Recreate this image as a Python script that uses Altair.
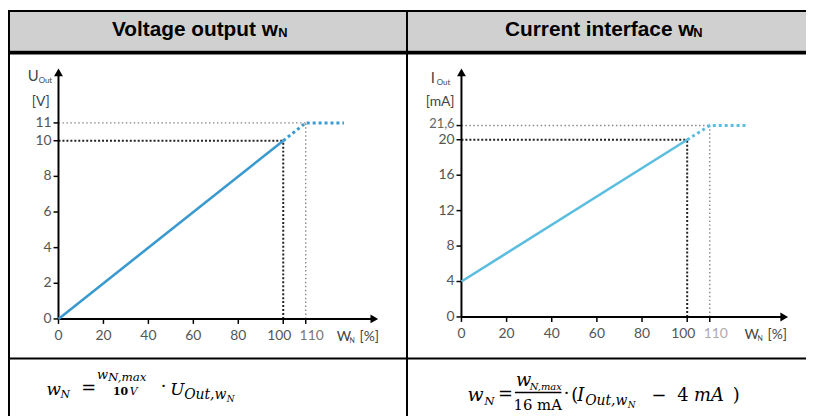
import altair as alt
import pandas as pd

# ---------------- data ----------------
pct_ticks = [0, 20, 40, 60, 80, 100, 110]
pct_tick_labels = ["0", "20", "40", "60", "80", "100", "110"]
voltage_ticks = [0, 2, 4, 6, 8, 10, 11]
voltage_tick_labels = ["0", "2", "4", "6", "8", "10", "11"]
current_ticks = [0, 4, 8, 12, 16, 20, 21.6]
current_tick_labels = ["0", "4", "8", "12", "16", "20", "21,6"]

voltage_pct = [0, 100, 110, 127]
voltage_out = [0, 10, 11, 11]
current_pct = [0, 100, 110, 126]
current_out = [4, 20, 21.6, 21.6]

ref_pct = [100, 110]
ref_voltage = [10, 11]
ref_current = [20, 21.6]

headers = ["Voltage output w", "Current interface w"]

W, H = 806, 410
OX, OY = 8, 8  # page offset


def px(x):
    return x - OX


def py(y):
    return y - OY


one = pd.DataFrame({"k": [0]})

# scales (pixel ranges inside the canvas)
VX = alt.Scale(domain=[0, 100], range=[px(59), px(286)], zero=False, nice=False)
VY = alt.Scale(domain=[0, 10], range=[py(320), py(140)], zero=False, nice=False)
CX = alt.Scale(domain=[0, 100], range=[px(466), px(694)], zero=False, nice=False)
CY = alt.Scale(domain=[0, 20], range=[py(318), py(139)], zero=False, nice=False)

layers = []


def box(x1, x2, y1, y2, color):
    return alt.Chart(one).mark_rect(color=color, opacity=1).encode(
        x=alt.value(x1), x2=alt.value(x2), y=alt.value(y1), y2=alt.value(y2))


def txt(s, x, y, size, font="Lato", color="#444", align="left", baseline="alphabetic",
        weight="normal", style="normal"):
    return alt.Chart(one).mark_text(
        text=s, align=align, baseline=baseline, font=font, fontSize=size, color=color,
        fontWeight=weight, fontStyle=style).encode(x=alt.value(x), y=alt.value(y))


# ---------------- table ----------------
layers.append(box(0, W, 2, 41, "#d0d0d0"))
layers.append(box(0, W, 0, 2, "#000000"))
layers.append(box(0, W, 41, 45, "#000000"))
layers.append(box(0, W, py(359), py(361), "#000000"))
layers.append(box(0, 2, 0, H, "#000000"))
layers.append(box(px(410), px(412), 0, H, "#000000"))

# headers
layers.append(txt(headers[0], px(113), py(34), 21, font="Liberation Sans", color="#000", weight="bold"))
layers.append(txt("N", px(281), py(35), 13, font="Liberation Sans", color="#000", weight="bold"))
layers.append(txt(headers[1], px(510), py(34), 21, font="Liberation Sans", color="#000", weight="bold"))
layers.append(txt("N", px(700), py(35), 13, font="Liberation Sans", color="#000", weight="bold"))


# ---------------- charts ----------------
def panel(SX, SY, pcts, outs, refy, yticks, ylabels, color, geo, c110):
    out = []
    line_df = pd.DataFrame({"pct": pcts, "val": outs})
    ref_df = pd.DataFrame({"pct": ref_pct, "val": refy, "x0": [0, 0], "y0": [0, 0]})
    origin = pd.DataFrame({"pct": [0], "val": [0]})
    xt = pd.DataFrame({"t": pct_ticks, "lab": pct_tick_labels})
    yt = pd.DataFrame({"t": yticks, "lab": ylabels})
    X = lambda f: alt.X(f, scale=SX, axis=None)
    Y = lambda f: alt.Y(f, scale=SY, axis=None)

    # reference lines
    styles = {100: dict(color="#222222", strokeWidth=2, strokeDash=[2, 2]),
              110: dict(color="#888888", strokeWidth=1.4, strokeDash=[1.5, 2.5])}
    for p, st in styles.items():
        out.append(alt.Chart(ref_df).transform_filter(alt.datum.pct == p).mark_rule(**st).encode(
            x=X("x0:Q"), x2="pct:Q", y=Y("val:Q")))
        out.append(alt.Chart(ref_df).transform_filter(alt.datum.pct == p).mark_rule(**st).encode(
            x=X("pct:Q"), y=Y("y0:Q"), y2="val:Q"))

    # axes
    axx, axy, xtip, ytip = geo
    out.append(alt.Chart(origin).mark_rule(color="#000", strokeWidth=2).encode(
        x=X("pct:Q"), x2=alt.value(xtip - 6), y=Y("val:Q")))
    out.append(alt.Chart(origin).mark_rule(color="#000", strokeWidth=2).encode(
        x=X("pct:Q"), y=Y("val:Q"), y2=alt.value(ytip + 6)))
    out.append(alt.Chart(origin).mark_point(shape="triangle-right", filled=True, size=80,
                                            color="#000", opacity=1).encode(
        x=alt.value(xtip - 5), y=Y("val:Q")))
    out.append(alt.Chart(origin).mark_point(shape="triangle-up", filled=True, size=80,
                                            color="#000", opacity=1).encode(
        x=X("pct:Q"), y=alt.value(ytip + 5)))
    # ticks
    out.append(alt.Chart(xt).mark_rule(color="#000", strokeWidth=1.5).encode(
        x=X("t:Q"), y=alt.value(axx), y2=alt.value(axx + 5)))
    out.append(alt.Chart(yt).mark_rule(color="#000", strokeWidth=1.5).encode(
        y=Y("t:Q"), x=alt.value(axy - 5), x2=alt.value(axy)))
    # tick labels
    for cond, dx, col in [(alt.datum.t < 100, 0, "#555"), (alt.datum.t == 100, -4, "#555"),
                          (alt.datum.t > 100, 6, c110)]:
        out.append(alt.Chart(xt).transform_filter(cond).mark_text(
            font="Lato", fontSize=14, color=col, baseline="middle", dx=dx).encode(
            x=X("t:Q"), y=alt.value(axx + 17), text="lab:N"))
    out.append(alt.Chart(yt).transform_filter(alt.datum.t < 21).mark_text(
        font="Lato", fontSize=14, color="#555", baseline="middle", align="right").encode(
        y=Y("t:Q"), x=alt.value(axy - 7), text="lab:N"))
    out.append(alt.Chart(yt).transform_filter(alt.datum.t > 21).mark_text(
        font="Lato", fontSize=13, color="#666", baseline="middle", align="right", dy=-2).encode(
        y=Y("t:Q"), x=alt.value(axy - 7), text="lab:N"))

    # data line
    out.append(alt.Chart(line_df).transform_filter(alt.datum.pct <= 100).mark_line(
        color=color, strokeWidth=2.6).encode(x=X("pct:Q"), y=Y("val:Q")))
    out.append(alt.Chart(line_df).transform_filter(alt.datum.pct >= 100).mark_line(
        color=color, strokeWidth=3, strokeDash=[3, 3]).encode(x=X("pct:Q"), y=Y("val:Q")))
    return out


layers += panel(VX, VY, voltage_pct, voltage_out, ref_voltage, voltage_ticks, voltage_tick_labels,
                "#3a9ad0", (py(320), px(59), px(383), py(66)), "#777")
layers += panel(CX, CY, current_pct, current_out, ref_current, current_ticks, current_tick_labels,
                "#5bbddf", (py(318), px(466), px(797), py(66)), "#aaa")

# axis titles
layers.append(txt("U", px(28), py(80), 15))
layers.append(txt("Out", px(39), py(82), 8))
layers.append(txt("[V]", px(32), py(105), 14))
layers.append(txt("W", px(340), py(342), 14))
layers.append(txt("N", px(353), py(344), 7))
layers.append(txt("[%]", px(363), py(342), 14))

layers.append(txt("I", px(435), py(82), 15))
layers.append(txt("Out", px(441), py(84), 8))
layers.append(txt("[mA]", px(430), py(105), 14))
layers.append(txt("W", px(752), py(340), 14))
layers.append(txt("N", px(765), py(342), 7))
layers.append(txt("[%]", px(775), py(340), 14))

# ---------------- formulas ----------------
MF = "DejaVu Serif"
K = "#000"
# left: w_N = w_{N,max}/(10 V) * U_{Out,w_N}
layers.append(txt("w", px(47), py(397), 17, font=MF, color=K, style="italic"))
layers.append(txt("N", px(61), py(400), 11, font=MF, color=K, style="italic"))
layers.append(txt("=", px(82), py(396), 18, font=MF, color=K))
layers.append(txt("w", px(98), py(381), 13, font=MF, color=K, style="italic"))
layers.append(txt("N,max", px(109), py(383), 12, font=MF, color=K, style="italic"))
layers.append(txt("10", px(114), py(397), 11, font=MF, color=K, weight="bold"))
layers.append(txt("V", px(131), py(397), 11, font=MF, color=K, style="italic"))
layers.append(txt("⋅", px(162), py(394), 18, font=MF, color=K))
layers.append(txt("U", px(172), py(397), 17, font=MF, color=K, style="italic"))
layers.append(txt("Out,w", px(186), py(401), 14, font=MF, color=K, style="italic"))
layers.append(txt("N", px(229), py(404), 9, font=MF, color=K, style="italic"))

# right: w_N = w_{N,max}/(16 mA) * (I_{Out,w_N} - 4 mA)
layers.append(txt("w", px(472), py(403), 19, font=MF, color=K, style="italic"))
layers.append(txt("N", px(489), py(407), 12, font=MF, color=K, style="italic"))
layers.append(txt("=", px(503), py(402), 18, font=MF, color=K))
layers.append(txt("w", px(521), py(388), 18, font=MF, color=K, style="italic"))
layers.append(txt("N,max", px(535), py(392), 10, font=MF, color=K, style="italic"))
layers.append(box(px(520), px(567), py(393.5), py(395), K))
layers.append(txt("16 mA", px(543), py(412), 15, font=MF, color=K, align="center"))
layers.append(txt("⋅", px(569), py(401), 18, font=MF, color=K))
layers.append(txt("(", px(577), py(403), 18, font=MF, color=K))
layers.append(txt("I", px(583), py(403), 18, font=MF, color=K, style="italic"))
layers.append(txt("Out,w", px(591), py(407), 14, font=MF, color=K, style="italic"))
layers.append(txt("N", px(634), py(410), 9, font=MF, color=K, style="italic"))
layers.append(txt("−", px(658), py(403), 18, font=MF, color=K))
layers.append(txt("4", px(684), py(403), 18, font=MF, color=K))
layers.append(txt("mA", px(701), py(403), 18, font=MF, color=K, style="italic"))
layers.append(txt(")", px(740), py(403), 18, font=MF, color=K))

chart = alt.layer(*layers).resolve_scale(x="independent", y="independent").properties(
    width=W, height=H, padding=0, autosize=alt.AutoSizeParams(type="none"),
    background="white").configure_view(stroke=None)

chart.save("out.html", embed_options={"renderer": "svg", "actions": False})
